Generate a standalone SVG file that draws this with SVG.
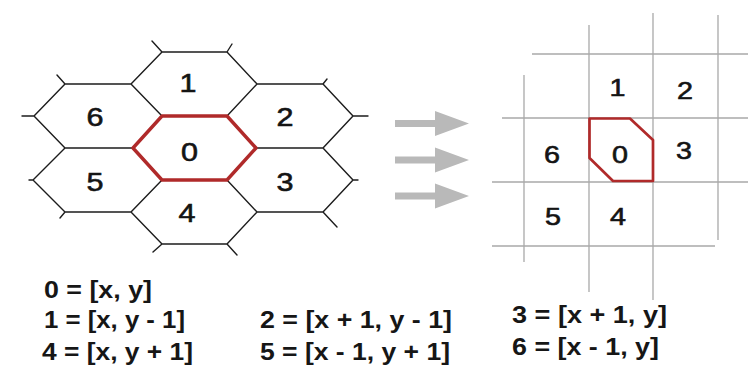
<svg xmlns="http://www.w3.org/2000/svg" width="748" height="374" viewBox="0 0 748 374">
  <defs>
    <style>
      .hexline { fill: none; stroke: #1c1c1c; stroke-width: 1.4; stroke-linecap: round; stroke-linejoin: round; }
      .gridline { fill: none; stroke: #a9a9a9; stroke-width: 1.3; }
      .hl-hex { fill: none; stroke: #b02a2a; stroke-width: 3.4; stroke-linejoin: round; }
      .hl-cell { fill: none; stroke: #b02a2a; stroke-width: 2.7; stroke-linejoin: round; }
      .hexlabel { font-family: "Liberation Sans", Arial, sans-serif; font-size: 26px; fill: #141414; stroke: #141414; stroke-width: 0.6; text-anchor: middle; }
      .celllabel { font-family: "Liberation Sans", Arial, sans-serif; font-size: 24px; fill: #141414; stroke: #141414; stroke-width: 0.6; text-anchor: middle; }
      .formula { font-family: "Liberation Sans", Arial, sans-serif; font-size: 23px; font-weight: bold; fill: #161616; }
      .arrow { fill: #b9b9b9; }
    </style>
    <!-- wide grey arrow: shaft plus triangular head, origin at left end of shaft -->
    <path id="bigArrow" class="arrow" d="M0,-3.6 H40 V-12.5 L74,0 L40,12.5 V3.6 H0 Z"/>
  </defs>

  <rect width="748" height="374" fill="#ffffff"/>

  <!-- hexagonal neighbourhood: outline strokes shared between cells -->
  <g id="hex-outlines">
    <path class="hexline" d="M152,41 L162,52 L227,52 L232,44
      M162,52 L131,84 L162,116
      M227,52 L257,84 L227,116
      M57,75 L65,84 L131,84
      M65,84 L34,116 L65,148
      M22,116 L34,116
      M65,148 L133,148
      M257,84 L323,84 L327,79
      M323,84 L353,116 L323,148
      M353,116 L368,116
      M256,148 L323,148
      M65,148 L33,180 L65,212
      M29,180 L33,180
      M60,218 L65,212 L131,212
      M323,148 L353,180 L323,212
      M353,180 L358,180
      M257,212 L323,212 L337,227
      M162,180 L131,212 L162,244
      M227,180 L257,212 L227,244
      M153,252 L162,244 L227,244 L237,255"/>
  </g>

  <g id="hex-0">
    <polygon class="hl-hex" points="162,116 227,116 256,148 227,180 162,180 133,148"/>
    <text class="hexlabel" x="189.5" y="161" textLength="17" lengthAdjust="spacingAndGlyphs">0</text>
  </g>
  <g id="hex-1"><text class="hexlabel" x="188" y="92" textLength="17" lengthAdjust="spacingAndGlyphs">1</text></g>
  <g id="hex-2"><text class="hexlabel" x="285" y="126" textLength="17" lengthAdjust="spacingAndGlyphs">2</text></g>
  <g id="hex-3"><text class="hexlabel" x="285" y="191" textLength="17" lengthAdjust="spacingAndGlyphs">3</text></g>
  <g id="hex-4"><text class="hexlabel" x="187" y="222" textLength="17" lengthAdjust="spacingAndGlyphs">4</text></g>
  <g id="hex-5"><text class="hexlabel" x="95" y="191" textLength="17" lengthAdjust="spacingAndGlyphs">5</text></g>
  <g id="hex-6"><text class="hexlabel" x="95" y="126" textLength="17" lengthAdjust="spacingAndGlyphs">6</text></g>

  <!-- three transfer arrows -->
  <g id="arrows">
    <use href="#bigArrow" x="395" y="123.5"/>
    <use href="#bigArrow" x="395" y="160"/>
    <use href="#bigArrow" x="395" y="196"/>
  </g>

  <!-- square grid lines -->
  <g id="square-grid">
    <path class="gridline" d="M524,75 V262 M589,25 V292 M653,13 V300 M718,15 V240
      M532,54 H748 M502,118 H748 M492,182 H748 M492,246 H715"/>
  </g>

  <g id="cell-0">
    <polygon class="hl-cell" points="589.5,118.5 630,118.5 653,140 653,181 613,181 589.5,158"/>
    <text class="celllabel" x="620" y="163" textLength="16" lengthAdjust="spacingAndGlyphs">0</text>
  </g>
  <g id="cell-1"><text class="celllabel" x="617.5" y="96" textLength="16" lengthAdjust="spacingAndGlyphs">1</text></g>
  <g id="cell-2"><text class="celllabel" x="685" y="99" textLength="16" lengthAdjust="spacingAndGlyphs">2</text></g>
  <g id="cell-3"><text class="celllabel" x="684" y="159" textLength="16" lengthAdjust="spacingAndGlyphs">3</text></g>
  <g id="cell-4"><text class="celllabel" x="618" y="225" textLength="16" lengthAdjust="spacingAndGlyphs">4</text></g>
  <g id="cell-5"><text class="celllabel" x="553" y="225" textLength="16" lengthAdjust="spacingAndGlyphs">5</text></g>
  <g id="cell-6"><text class="celllabel" x="552" y="163" textLength="16" lengthAdjust="spacingAndGlyphs">6</text></g>

  <!-- neighbour offset table -->
  <g id="formulas">
    <text class="formula" x="44" y="298" textLength="108" lengthAdjust="spacingAndGlyphs">0 = [x, y]</text>
    <text class="formula" x="44" y="328" textLength="141" lengthAdjust="spacingAndGlyphs">1 = [x, y - 1]</text>
    <text class="formula" x="42" y="360" textLength="151" lengthAdjust="spacingAndGlyphs">4 = [x, y + 1]</text>
    <text class="formula" x="260" y="328" textLength="192" lengthAdjust="spacingAndGlyphs">2 = [x + 1, y - 1]</text>
    <text class="formula" x="260" y="360" textLength="190" lengthAdjust="spacingAndGlyphs">5 = [x - 1, y + 1]</text>
    <text class="formula" x="512" y="323" textLength="155" lengthAdjust="spacingAndGlyphs">3 = [x + 1, y]</text>
    <text class="formula" x="512" y="355" textLength="147" lengthAdjust="spacingAndGlyphs">6 = [x - 1, y]</text>
  </g>
</svg>
